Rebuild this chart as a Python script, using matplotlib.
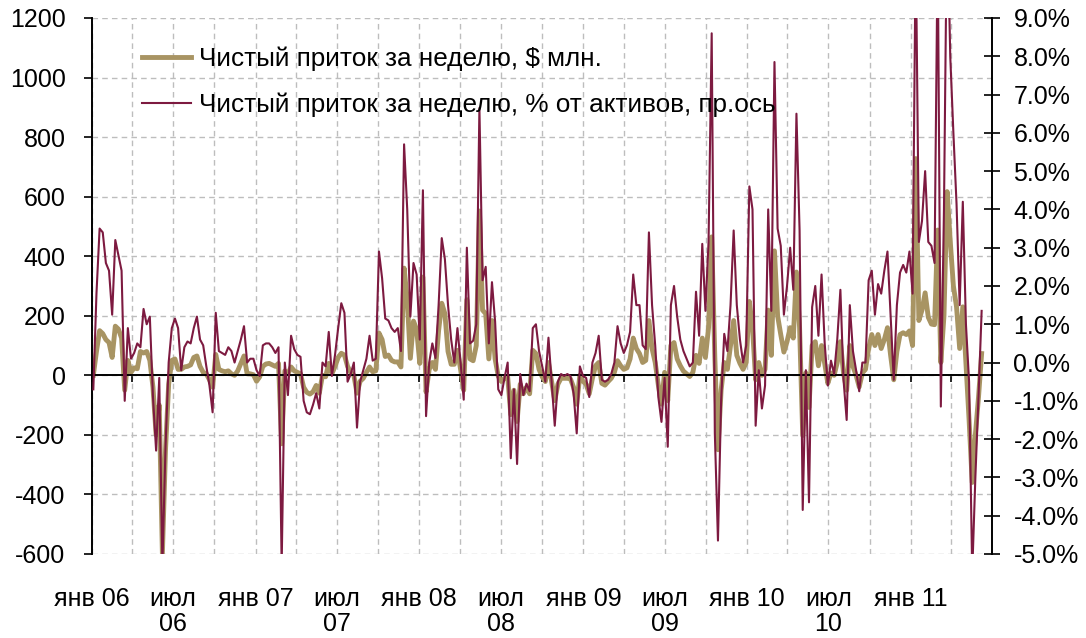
import numpy as np
import pandas as pd
import matplotlib
matplotlib.use("Agg")
import matplotlib.pyplot as plt
import matplotlib.dates as mdates
from matplotlib.ticker import FuncFormatter, MultipleLocator

plt.rcParams['font.family'] = ['Liberation Sans', 'DejaVu Sans']
plt.rcParams['axes.unicode_minus'] = False

# недельные данные, среда
weeks = pd.date_range('2006-01-04', periods=284, freq='7D')

# чистый приток, $ млн (левая ось)
flow_usd = [
    0, 80, 150, 140, 120, 110, 60, 165, 155, 125,
    -50, 50, 10, 25, 22, 80, 75, 80, 50, -40,
    -200, -100, -600, -250, -30, 50, 55, 20, 20, 28,
    30, 35, 60, 65, 30, 10, 5, -15, -40, 70,
    20, 15, 12, 15, 5, 0, 15, 40, 65, 5,
    5, 2, -20, -5, 30, 38, 40, 35, 30, 40,
    -230, 15, 5, 28, 15, 10, 5, -40, -57, -63,
    -55, -34, -60, 0, -5, 40, 5, 30, 60, 74,
    68, 30, 10, 0, -60, -20, -10, 10, 28, 12,
    15, 142, 120, 63, 68, 50, 45, 45, 28, 360,
    256, 57, 182, 154, 40, 330, -56, 20, 43, 20,
    150, 242, 207, 80, 37, 37, 84, 20, -50, 254,
    55, 49, 100, 552, 219, 207, 55, 184, 55, -3,
    -21, -10, -5, -132, -50, -155, -30, -62, -40, -62,
    84, 73, 20, -5, -21, 43, -20, -85, -30, -10,
    -10, -10, -12, -40, -97, 0, -20, -30, -62, -10,
    32, 43, -27, -33, -21, -10, 10, 49, 32, 20,
    25, 55, 125, 90, 73, 43, 50, 184, 90, 43,
    -33, -97, 10, -85, 100, 110, 55, 32, 14, 5,
    -4, 10, 67, 40, 125, 60, 160, 465, 60, -250,
    -50, 43, 20, 100, 184, 67, 40, 20, 43, 248,
    160, -15, 43, 0, 20, 219, 67, 418, 200, 137,
    78, 113, 160, 125, 347, 160, -202, 8, -108, 100,
    113, 32, 100, 40, -27, 8, 0, 43, 113, 8,
    -50, 100, 30, 0, -39, 8, 20, 90, 137, 100,
    137, 90, 120, 160, 67, -15, 80, 137, 143, 137,
    149, 100, 728, 184, 219, 277, 195, 172, 170, 488,
    43, 200, 617, 450, 300, 230, 90, 230, 43, -150,
    -360, -200, -74, 73,
]

# чистый приток, % от активов (правая ось)
flow_pct = [
    -0.7, 1.8, 3.5, 3.4, 2.6, 2.4, 1.25, 3.2, 2.8, 2.4,
    -1.0, 0.9, 0.1, 0.25, 0.5, 0.4, 1.4, 1.0, 1.2, -0.9,
    -2.3, -0.4, -5.3, -2.2, 0.0, 0.9, 1.15, 0.9, -0.2, 0.4,
    0.55, 0.5, 0.9, 1.2, 0.6, 0.45, -0.1, -0.6, -1.3, 1.3,
    0.3, 0.25, 0.2, 0.4, 0.3, 0.0, 0.3, 0.6, 0.95, 0.0,
    0.1, 0.1, -0.2, -0.35, 0.45, 0.5, 0.5, 0.4, 0.25, 0.4,
    -5.3, 0.0, -0.85, 0.7, 0.35, 0.2, 0.15, -1.0, -1.3, -1.35,
    -1.1, -0.8, -1.2, 0.0, -0.1, 0.8, -0.35, 0.2, 0.9, 1.55,
    1.3, -0.5, -0.3, 0.0, -1.7, -0.5, -0.2, 0.1, 0.7, 0.05,
    0.1, 2.9, 2.2, 1.15, 1.1, 0.9, 0.8, 0.9, 0.3, 5.7,
    4.0, 1.2, 2.6, 2.3, 0.6, 4.5, -1.4, 0.0, 0.5, 0.12,
    1.5, 3.25, 2.7, 1.5, 0.6, 0.0, 0.9, 0.0, -0.97, 3.0,
    0.5, 0.57, 1.0, 6.65, 2.15, 2.5, 0.5, 2.1, 1.07, -0.7,
    -0.85, -0.4, 0.0, -2.5, -0.7, -2.65, -0.3, -0.85, -0.55, -0.75,
    0.9, 1.0, 0.3, -0.1, -0.5, 0.65, -0.5, -1.65, -0.5, -0.3,
    -0.35, -0.3, -0.35, -0.8, -1.85, -0.1, -0.35, -0.4, -0.9, 0.0,
    0.25, 0.7, -0.45, -0.5, -0.45, -0.3, 0.0, 0.95, 0.5, 0.25,
    0.45, 0.8, 2.3, 1.5, 1.5, 0.45, 0.35, 3.4, 1.5, 0.45,
    -0.9, -1.55, -0.4, -2.2, 1.5, 2.0, 1.2, 0.6, 0.3, 0.1,
    -0.1, 0.0, 1.85, 0.7, 3.1, 1.35, 3.15, 8.6, -1.85, -4.65,
    -1.0, 0.75, 0.3, 1.5, 3.45, 1.5, 0.6, 0.0, 0.45, 4.6,
    4.0, -1.65, -0.2, -1.2, -0.6, 4.0, 1.35, 7.85, 3.5, 3.05,
    1.25, 2.0, 3.0, 1.9, 6.5, 3.45, -3.85, -0.2, -3.65, 1.45,
    2.0, 0.7, 2.3, 0.5, -0.6, 0.05, -0.3, 0.6, 1.9, -0.45,
    -1.5, 1.5, 0.3, -0.2, -0.75, 0.0, 0.0, 2.15, 2.4, 1.25,
    2.05, 1.8, 2.4, 2.9, 1.25, -0.45, 1.5, 2.35, 2.55, 2.35,
    2.9, 1.8, 11.0, 3.15, 3.7, 5.0, 3.15, 3.05, 2.6, 11.0,
    -1.15, 4.0, 12.0, 8.0, 6.0, 4.15, 1.5, 4.2, 1.0, -0.5,
    -5.5, -3.0, -0.9, 1.35,
]

label_dates = ['2006-01-01', '2006-07-01', '2007-01-01', '2007-07-01', '2008-01-01',
               '2008-07-01', '2009-01-01', '2009-07-01', '2010-01-01', '2010-07-01',
               '2011-01-01']
label_text = ['янв 06', 'июл\n06', 'янв 07', 'июл\n07', 'янв 08', 'июл\n08',
              'янв 09', 'июл\n09', 'янв 10', 'июл\n10', 'янв 11']

name_usd = 'Чистый приток за неделю, $ млн.'
name_pct = 'Чистый приток за неделю, % от активов, пр.ось'

gold = '#a89463'
wine = '#7d1a40'
fs = 18

fig = plt.figure(figsize=(10.86, 6.38), dpi=100)
ax = fig.add_axes([0.0847, 0.1317, 0.8287, 0.8401])
ax2 = ax.twinx()

l1, = ax.plot(weeks, flow_usd, color=gold, lw=3.5, solid_joinstyle='round', label=name_usd)
l2, = ax2.plot(weeks, flow_pct, color=wine, lw=1.5, label=name_pct)

ax.set_xlim(pd.Timestamp('2006-01-01'), pd.Timestamp('2011-07-01'))
ax.set_ylim(-600, 1200)
ax.yaxis.set_major_locator(MultipleLocator(200))
ax2.set_ylim(-5, 9)
ax2.yaxis.set_major_locator(MultipleLocator(1))
ax2.yaxis.set_major_formatter(FuncFormatter(lambda v, p: f'{v:.1f}%'))

# квартальная сетка, засечки на нулевой линии
ax.xaxis.set_major_locator(mdates.MonthLocator(bymonth=[1, 4, 7, 10]))
ax.grid(True, linestyle=(0, (4, 3)), color='#bdbdbd', lw=1.0)
ax.set_axisbelow(True)
ax.spines['bottom'].set_position(('data', 0))
ax.spines['bottom'].set_color('black')
ax.spines['bottom'].set_linewidth(1.4)
ax.tick_params(axis='x', direction='out', length=5, width=1.2, labelbottom=False)
ax.tick_params(axis='y', direction='out', length=6, width=1.2, pad=13, labelsize=fs)

for s in ['top', 'right']:
    ax.spines[s].set_visible(False)
for s in ['top', 'bottom', 'left']:
    ax2.spines[s].set_visible(False)
ax.spines['left'].set_linewidth(1.4)
ax2.spines['right'].set_linewidth(1.4)
ax2.tick_params(axis='y', direction='inout', length=11, width=1.2, pad=10, labelsize=fs)

# подписи месяцев внизу
sec = ax.secondary_xaxis('bottom')
sec.set_xticks(mdates.date2num(pd.to_datetime(label_dates)), labels=label_text)
sec.tick_params(length=0, pad=24, labelsize=fs)
sec.spines['bottom'].set_visible(False)
for t in sec.get_xticklabels():
    t.set_linespacing(1.05)

leg = ax2.legend([l1, l2], [name_usd, name_pct], loc='upper left',
                 bbox_to_anchor=(0.029, 0.99), frameon=False, fontsize=18.8,
                 handlelength=1.9, handletextpad=0.3, labelspacing=0.8)

fig.savefig('out.png', dpi=100)
